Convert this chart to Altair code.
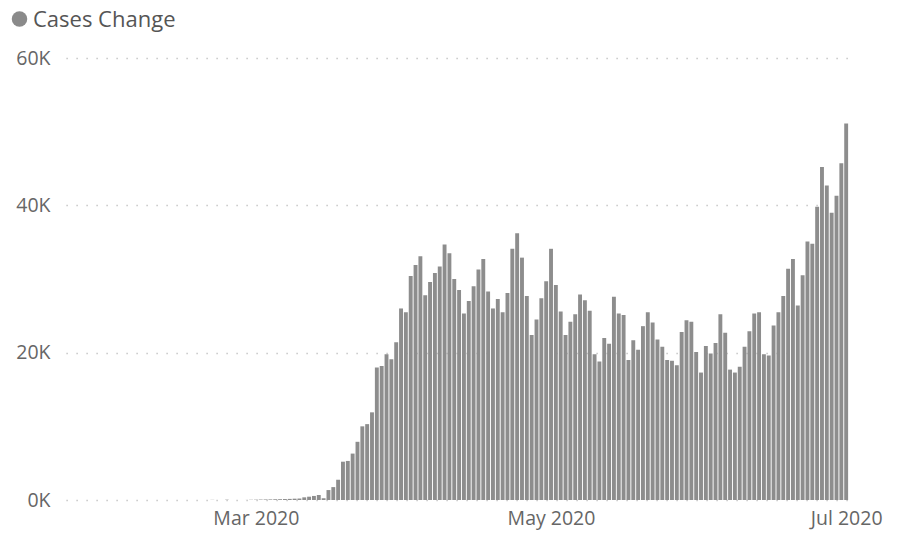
import altair as alt
import pandas as pd

# Daily new cases, Jan 23 .. Jul 1 2020
jan = [1, 1, 0, 3, 0, 0, 0, 2, 1]                      # Jan 23-31
feb = [1, 3, 1, 0, 1, 0, 0, 0, 0, 1, 0, 1, 1, 0, 0, 0, 0,
       0, 0, 0, 20, 0, 0, 36, 0, 1, 2, 5, 30]            # Feb 1-29
mar = [40, 60, 70, 80, 100, 110, 130, 150, 180, 200,
       360, 450, 550, 680, 250, 1350, 1750, 2750, 5200, 5300,
       6300, 7900, 10000, 10300, 11900, 18000, 18200, 19800, 19100, 21400,
       26000]                                            # Mar 1-31
apr = [25500, 30400, 31900, 33100, 27800, 29600, 30800, 31700, 34700, 33500,
       30000, 28500, 25300, 27000, 29000, 31300, 32700, 28300, 26000, 27300,
       25500, 28100, 34100, 36200, 32900, 27700, 22400, 24500, 27400, 29700]
may = [34100, 29200, 25600, 22400, 24200, 25200, 27900, 27100, 25700, 19800,
       18800, 22000, 21200, 27600, 25300, 25100, 19000, 21700, 20400, 23600,
       25500, 24100, 21800, 20800, 19000, 18900, 18300, 22800, 24400, 24200,
       20100]
jun = [17300, 20900, 19900, 21300, 25200, 22700, 17700, 17300, 18100, 20800,
       22900, 25300, 25500, 19800, 19600, 23700, 25500, 27700, 31400, 32700,
       26400, 30500, 35100, 34800, 39800, 45200, 42700, 39000, 41300, 45700]
jul = [51100]

values = jan + feb + mar + apr + may + jun + jul
dates = pd.date_range("2020-01-23", "2020-07-01", freq="D")
df = pd.DataFrame({"date": dates.strftime("%Y-%m-%dT00:00:00Z"), "cases": values})

y_ticks = [0, 20000, 40000, 60000]
legend_label = ["Cases Change"]

FONT = "Open Sans"

x_axis = alt.Axis(
    values=[alt.DateTime(year=2020, month=3, date=1, utc=True),
            alt.DateTime(year=2020, month=5, date=1, utc=True),
            alt.DateTime(year=2020, month=7, date=1, utc=True)],
    format="%b %Y", labelFlush=False, labelOverlap=False, grid=False, domain=False,
    ticks=False, labelPadding=9, labelFontSize=19.5, labelFont=FONT,
    labelColor="#666666")

y_axis = alt.Axis(
    values=y_ticks, labelExpr="datum.value / 1000 + 'K'", grid=True,
    gridDash=[1.2, 8.8], gridColor="#b8b8b8", gridWidth=1.3, domain=False,
    ticks=False, labelPadding=16, labelFontSize=19.5, labelFont=FONT,
    labelColor="#666666", labelBaseline="middle")

bars = alt.Chart(df).mark_bar(size=3.9, color="#8d8d8d", clip=True).encode(
    x=alt.X("date:T", title=None, axis=x_axis,
            scale=alt.Scale(type="utc", domain=[
                alt.DateTime(year=2020, month=1, date=22, hours=19, utc=True),
                alt.DateTime(year=2020, month=7, date=1, hours=19, utc=True)])),
    y=alt.Y("cases:Q", title=None, axis=y_axis,
            scale=alt.Scale(domain=[0, 60000], nice=False)),
)

leg_df = pd.DataFrame({"label": legend_label})
dot = alt.Chart(leg_df).mark_point(filled=True, shape="circle", size=240,
                                   color="#8a8a8a", opacity=1).encode(
    x=alt.value(-46.5), y=alt.value(-39))
txt = alt.Chart(leg_df).mark_text(align="left", baseline="alphabetic", fontSize=22,
                                  font=FONT, color="#555555").encode(
    x=alt.value(-33), y=alt.value(-31.3), text="label:N")

chart = alt.layer(bars, dot, txt).properties(
    width=789, height=442,
    autosize=alt.AutoSizeParams(type="none"),
    padding={"left": 58, "top": 50, "right": 34, "bottom": 30},
).configure(background="white").configure_view(strokeWidth=0, stroke=None)

chart.save("out.html", embed_options={"renderer": "svg", "actions": False})
